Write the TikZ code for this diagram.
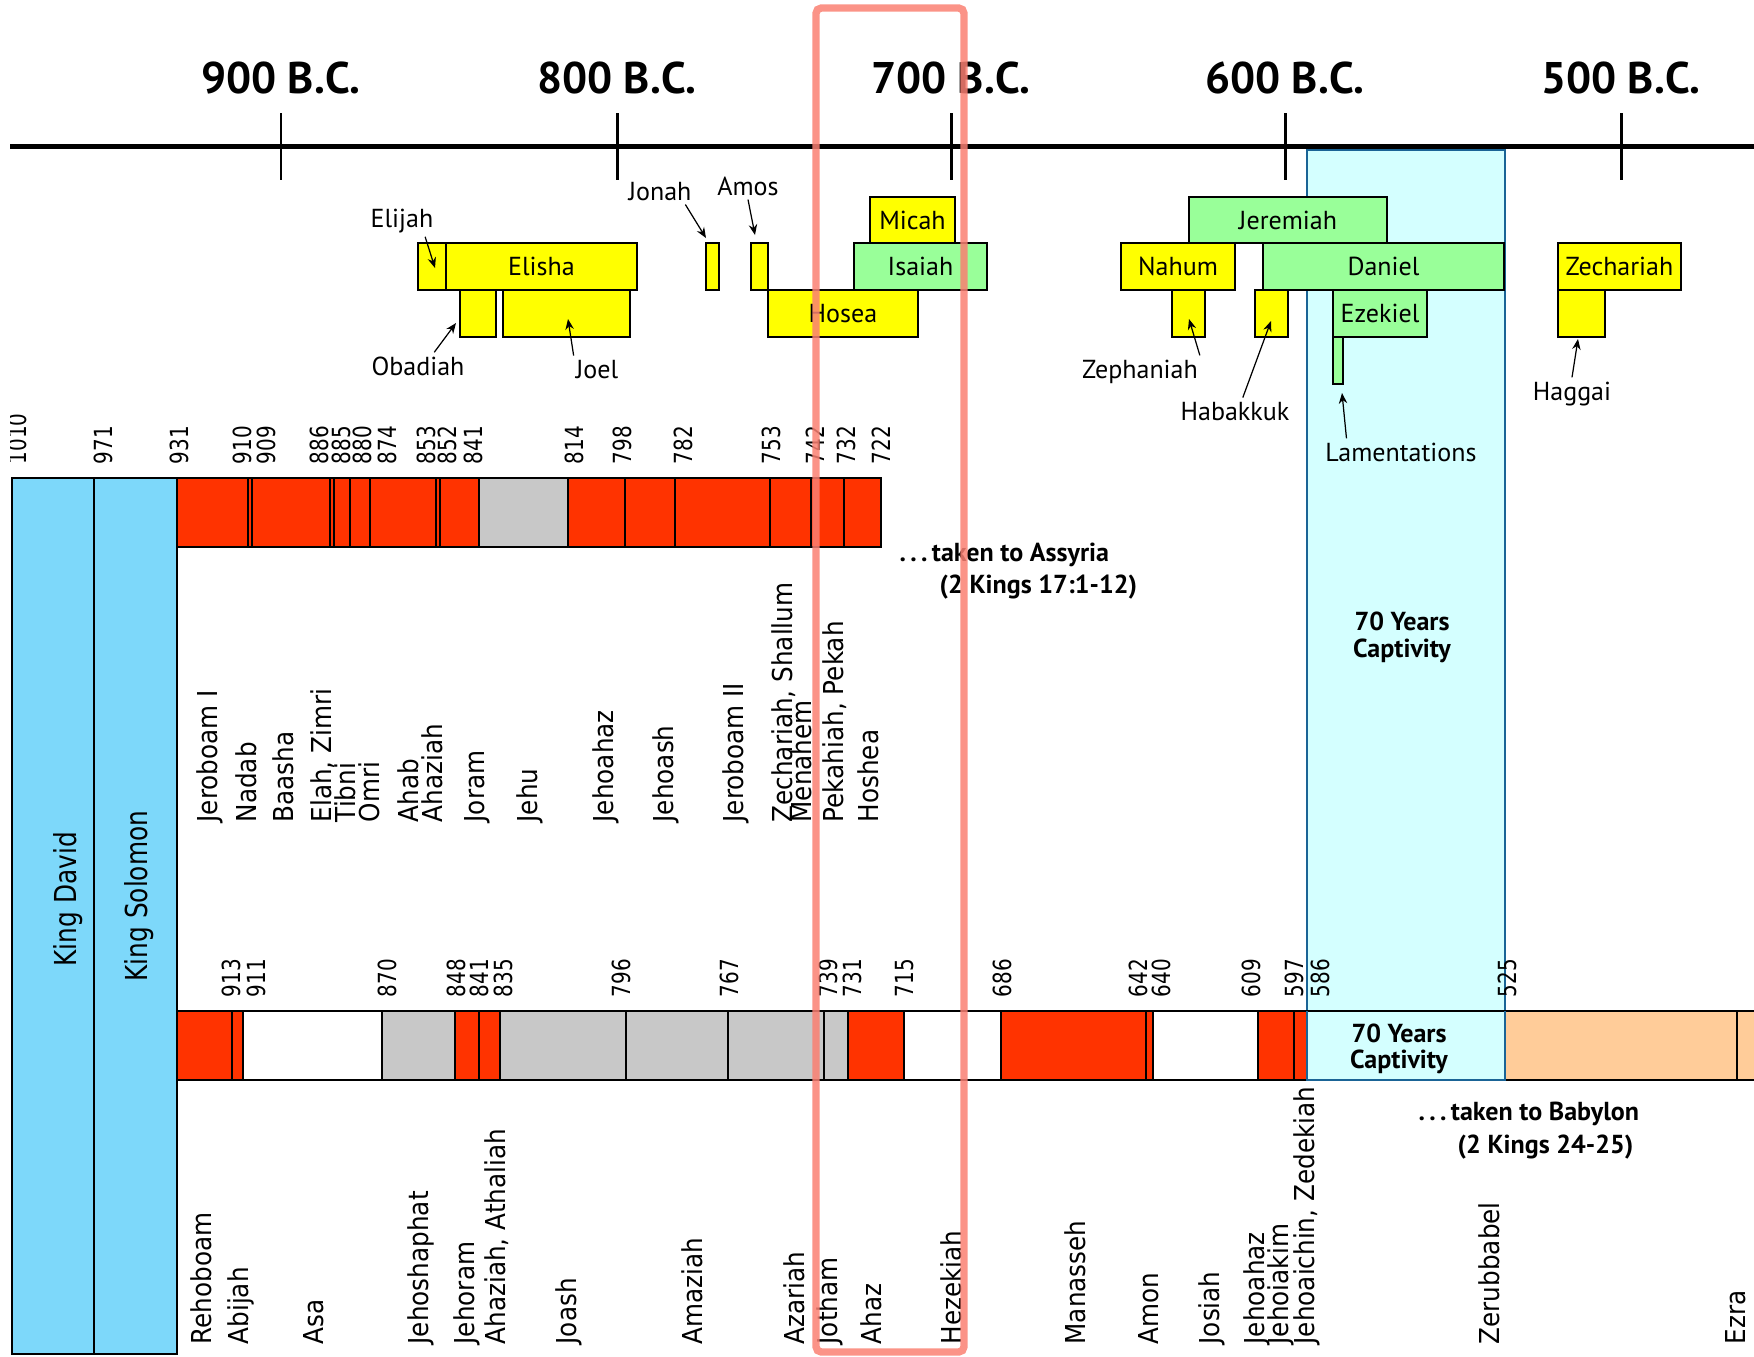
\documentclass[tikz,border=0pt]{standalone}
\usepackage{fontspec}
\setmainfont{PT Sans}
\newfontfamily\kingfont[FakeStretch=0.9]{DejaVu Sans}
\newfontfamily\crownfont[FakeStretch=0.82]{DejaVu Sans}
\newfontfamily\yearfont[FakeStretch=0.8]{DejaVu Sans}
\usetikzlibrary{arrows.meta}
\definecolor{israelred}{HTML}{FF3300}
\definecolor{idlegray}{HTML}{C8C8C8}
\definecolor{kingblue}{HTML}{7DD8FA}
\definecolor{exilecyan}{HTML}{D4FFFF}
\definecolor{exileedge}{HTML}{1A6496}
\definecolor{returnpeach}{HTML}{FFCC99}
\definecolor{prophetyellow}{HTML}{FFFF00}
\definecolor{prophetgreen}{HTML}{99FF99}
\definecolor{marker}{HTML}{FA8072}

\begin{document}
\begin{tikzpicture}[x=0.01cm,y=-0.01cm,
  cell/.style={draw=black,line width=0.6pt},
  ybox/.style={draw=black,line width=0.6pt,fill=prophetyellow},
  gbox/.style={draw=black,line width=0.6pt,fill=prophetgreen},
  plabel/.style={font=\fontsize{7.4}{8}\selectfont,anchor=base,inner sep=1pt},
  pointer/.style={-{Stealth[length=3pt,width=2.4pt]},line width=0.35pt},
  century/.style={font=\bfseries\fontsize{12.6}{14}\selectfont,anchor=base,inner sep=0pt},
  yearlbl/.style={font=\yearfont\fontsize{7.1}{8}\selectfont,rotate=90,anchor=base west,inner sep=0pt},
  kinglbl/.style={font=\kingfont\fontsize{7.8}{9}\selectfont,rotate=90,anchor=base west,inner sep=0pt},
  crownlbl/.style={font=\crownfont\fontsize{8.6}{9}\selectfont,rotate=90,anchor=base west,inner sep=0pt},
  note/.style={font=\bfseries\fontsize{7.4}{8}\selectfont,anchor=base west,inner sep=0pt}]
\useasboundingbox (0,0) rectangle (1754,1356);
\begin{scope}
\clip (10,0) rectangle (1754,1356);

% captivity column
\fill[exilecyan] (1307,150) rectangle (1505,1080);
\draw[exileedge,line width=0.7pt] (1307,150) rectangle (1505,1080);

% time axis
\draw[line width=1.6pt] (10,146.5) -- (1754,146.5);
\draw[line width=0.85pt] (281,113) -- (281,180);
\draw[line width=0.85pt] (617,113) -- (617,180);
\draw[line width=0.85pt] (951,113) -- (951,180);
\draw[line width=0.85pt] (1285,113) -- (1285,180);
\draw[line width=0.85pt] (1621,113) -- (1621,180);
\node[century] (c900) at (281,93) {900 B.C.};
\node[century] (c800) at (617,93) {800 B.C.};
\node[century] (c700) at (951,93) {700 B.C.};
\node[century] (c600) at (1285,93) {600 B.C.};
\node[century] (c500) at (1621,93) {500 B.C.};

% prophets
\draw[ybox] (418,243) rectangle (446,290);
\draw[ybox] (446,243) rectangle (637,290);
\node[plabel] (elisha) at (541.5,275.5) {Elisha};
\draw[ybox] (460,290) rectangle (496,337);
\draw[ybox] (503,290) rectangle (630,337);
\draw[ybox] (706,243) rectangle (719,290);
\draw[ybox] (751,243) rectangle (768,290);
\draw[ybox] (768,290) rectangle (918,337);
\node[plabel] (hosea) at (843,322) {Hosea};
\draw[ybox] (870,197) rectangle (955,243);
\node[plabel] (micah) at (912.5,229) {Micah};
\draw[gbox] (854,243) rectangle (987,290);
\node[plabel] (isaiah) at (920.5,275.5) {Isaiah};
\draw[gbox] (1189,197) rectangle (1387,243);
\node[plabel] (jeremiah) at (1288,229) {Jeremiah};
\draw[ybox] (1121,243) rectangle (1235,290);
\node[plabel] (nahum) at (1178,275.5) {Nahum};
\draw[gbox] (1263,243) rectangle (1504,290);
\node[plabel] (daniel) at (1383.5,275.5) {Daniel};
\draw[ybox] (1558,243) rectangle (1681,290);
\node[plabel] (zechariah) at (1619.5,275.5) {Zechariah};
\draw[ybox] (1172,290) rectangle (1205,337);
\draw[ybox] (1255,290) rectangle (1288,337);
\draw[gbox] (1333,290) rectangle (1427,337);
\node[plabel] (ezekiel) at (1380,322) {Ezekiel};
\draw[gbox] (1333,337) rectangle (1343,384);
\draw[ybox] (1558,290) rectangle (1605,337);

\node[plabel] (elijah) at (402,227) {Elijah};
\node[plabel] (obadiah) at (418,375) {Obadiah};
\node[plabel] (joel) at (597,378) {Joel};
\node[plabel] (jonah) at (660,200) {Jonah};
\node[plabel] (amos) at (748,195) {Amos};
\node[plabel] (zephaniah) at (1140,378) {Zephaniah};
\node[plabel] (habakkuk) at (1235,420) {Habakkuk};
\node[plabel] (lamentations) at (1401,461) {Lamentations};
\node[plabel] (haggai) at (1572,400) {Haggai};

\coordinate (elijahtip) at (435,268);
\coordinate (obadiahtip) at (456,323);
\coordinate (joeltip) at (568,319);
\coordinate (jonahtip) at (706,238);
\coordinate (amostip) at (755,235);
\coordinate (zephaniahtip) at (1189,319);
\coordinate (habakkuktip) at (1271,321);
\coordinate (lamentationstip) at (1342,393);
\coordinate (haggaitip) at (1578,339);
\draw[pointer] (elijah.-35) -- (elijahtip);
\draw[pointer] (obadiah.40) -- (obadiahtip);
\draw[pointer] (joel.150) -- (joeltip);
\draw[pointer] (jonah.-28) -- (jonahtip);
\draw[pointer] (amos.south) -- (amostip);
\draw[pointer] (zephaniah.15) -- (zephaniahtip);
\draw[pointer] (habakkuk.60) -- (habakkuktip);
\draw[pointer] (lamentations.166) -- (lamentationstip);
\draw[pointer] (haggai.north) -- (haggaitip);

% united kingdom
\draw[cell,fill=kingblue] (12,478) rectangle (94,1354);
\draw[cell,fill=kingblue] (94,478) rectangle (177,1354);
\node[crownlbl] (david) at (77,967) {King David};
\node[crownlbl] (solomon) at (147,982) {King Solomon};

% israel
\draw[cell,fill=israelred] (177,478) rectangle (248,547);
\draw[cell,fill=israelred] (248,478) rectangle (252,547);
\draw[cell,fill=israelred] (252,478) rectangle (330,547);
\draw[cell,fill=israelred] (330,478) rectangle (334,547);
\draw[cell,fill=israelred] (334,478) rectangle (350,547);
\draw[cell,fill=israelred] (350,478) rectangle (370,547);
\draw[cell,fill=israelred] (370,478) rectangle (436,547);
\draw[cell,fill=israelred] (436,478) rectangle (440,547);
\draw[cell,fill=israelred] (440,478) rectangle (479,547);
\draw[cell,fill=idlegray] (479,478) rectangle (568,547);
\draw[cell,fill=israelred] (568,478) rectangle (625,547);
\draw[cell,fill=israelred] (625,478) rectangle (675,547);
\draw[cell,fill=israelred] (675,478) rectangle (770,547);
\draw[cell,fill=israelred] (770,478) rectangle (811,547);
\draw[cell,fill=israelred] (811,478) rectangle (844,547);
\draw[cell,fill=israelred] (844,478) rectangle (881,547);

% judah
\draw[cell,fill=israelred] (177,1011) rectangle (232,1080);
\draw[cell,fill=israelred] (232,1011) rectangle (243,1080);
\draw[cell,fill=white] (243,1011) rectangle (382,1080);
\draw[cell,fill=idlegray] (382,1011) rectangle (455,1080);
\draw[cell,fill=israelred] (455,1011) rectangle (479,1080);
\draw[cell,fill=israelred] (479,1011) rectangle (500,1080);
\draw[cell,fill=idlegray] (500,1011) rectangle (626,1080);
\draw[cell,fill=idlegray] (626,1011) rectangle (728,1080);
\draw[cell,fill=idlegray] (728,1011) rectangle (824,1080);
\draw[cell,fill=idlegray] (824,1011) rectangle (848,1080);
\draw[cell,fill=israelred] (848,1011) rectangle (904,1080);
\draw[cell,fill=white] (904,1011) rectangle (1001,1080);
\draw[cell,fill=israelred] (1001,1011) rectangle (1146,1080);
\draw[cell,fill=israelred] (1146,1011) rectangle (1153,1080);
\draw[cell,fill=white] (1153,1011) rectangle (1258,1080);
\draw[cell,fill=israelred] (1258,1011) rectangle (1294,1080);
\draw[cell,fill=israelred] (1294,1011) rectangle (1307,1080);
\draw[cell] (1307,1011) -- (1505,1011);
\draw[cell,fill=returnpeach] (1505,1011) rectangle (1737,1080);
\draw[cell,fill=returnpeach] (1737,1011) rectangle (1770,1080);
\draw[exileedge,line width=0.7pt] (1307,1011) -- (1307,1080) -- (1505,1080) -- (1505,1011);
\node[font=\bfseries\fontsize{7.4}{7.2}\selectfont,align=center] (exilecell) at (1399,1049) {70 Years\\Captivity};
\node[font=\bfseries\fontsize{7.4}{7.7}\selectfont,align=center] (exilecol) at (1402,637) {70 Years\\Captivity};

% israel years
\node[yearlbl] (i1010) at (26,465) {1010};
\node[yearlbl] (i971) at (112,465) {971};
\node[yearlbl] (i931) at (188,465) {931};
\node[yearlbl] (i910) at (251,465) {910};
\node[yearlbl] (i909) at (275,465) {909};
\node[yearlbl] (i886) at (328,465) {886};
\node[yearlbl] (i885) at (350,465) {885};
\node[yearlbl] (i880) at (371,465) {880};
\node[yearlbl] (i874) at (396,465) {874};
\node[yearlbl] (i853) at (435,465) {853};
\node[yearlbl] (i852) at (456,465) {852};
\node[yearlbl] (i841) at (482,465) {841};
\node[yearlbl] (i814) at (583,465) {814};
\node[yearlbl] (i798) at (631,465) {798};
\node[yearlbl] (i782) at (692,465) {782};
\node[yearlbl] (i753) at (780,465) {753};
\node[yearlbl] (i742) at (824,465) {742};
\node[yearlbl] (i732) at (855,465) {732};
\node[yearlbl] (i722) at (890,465) {722};

% israel kings
\node[kinglbl] (iJeroboamI) at (217,823) {Jeroboam I};
\node[kinglbl] (iNadab) at (256,823) {Nadab};
\node[kinglbl] (iBaasha) at (293,823) {Baasha};
\node[kinglbl] (iElah) at (331,823) {Elah, Zimri};
\node[kinglbl] (iTibni) at (355,823) {Tibni};
\node[kinglbl] (iOmri) at (379,823) {Omri};
\node[kinglbl] (iAhab) at (418,823) {Ahab};
\node[kinglbl] (iAhaziah) at (442,823) {Ahaziah};
\node[kinglbl] (iJoram) at (484,823) {Joram};
\node[kinglbl] (iJehu) at (537,823) {Jehu};
\node[kinglbl] (iJehoahaz) at (613,823) {Jehoahaz};
\node[kinglbl] (iJehoash) at (673,823) {Jehoash};
\node[kinglbl] (iJeroboamII) at (743,823) {Jeroboam II};
\node[kinglbl] (iZechariah) at (792,823) {Zechariah, Shallum};
\node[kinglbl] (iMenahem) at (811,823) {Menahem};
\node[kinglbl] (iPekahiah) at (843,823) {Pekahiah, Pekah};
\node[kinglbl] (iHoshea) at (878,823) {Hoshea};

% judah years
\node[yearlbl] (j913) at (240,998) {913};
\node[yearlbl] (j911) at (265,998) {911};
\node[yearlbl] (j870) at (396,998) {870};
\node[yearlbl] (j848) at (465,998) {848};
\node[yearlbl] (j841) at (488,998) {841};
\node[yearlbl] (j835) at (512,998) {835};
\node[yearlbl] (j796) at (630,998) {796};
\node[yearlbl] (j767) at (738,998) {767};
\node[yearlbl] (j739) at (837,998) {739};
\node[yearlbl] (j731) at (861,998) {731};
\node[yearlbl] (j715) at (913,998) {715};
\node[yearlbl] (j686) at (1011,998) {686};
\node[yearlbl] (j642) at (1147,998) {642};
\node[yearlbl] (j640) at (1170,998) {640};
\node[yearlbl] (j609) at (1260,998) {609};
\node[yearlbl] (j597) at (1303,998) {597};
\node[yearlbl] (j586) at (1329,998) {586};
\node[yearlbl] (j525) at (1516,998) {525};

% judah kings
\node[kinglbl] (jRehoboam) at (211,1345) {Rehoboam};
\node[kinglbl] (jAbijah) at (248,1345) {Abijah};
\node[kinglbl] (jAsa) at (323,1345) {Asa};
\node[kinglbl] (jJehoshaphat) at (428,1345) {Jehoshaphat};
\node[kinglbl] (jJehoram) at (474,1345) {Jehoram};
\node[kinglbl] (jAhaziah) at (505,1345) {Ahaziah, Athaliah};
\node[kinglbl] (jJoash) at (576,1345) {Joash};
\node[kinglbl] (jAmaziah) at (702,1345) {Amaziah};
\node[kinglbl] (jAzariah) at (804,1345) {Azariah};
\node[kinglbl] (jJotham) at (837,1345) {Jotham};
\node[kinglbl] (jAhaz) at (881,1345) {Ahaz};
\node[kinglbl] (jHezekiah) at (961,1345) {Hezekiah};
\node[kinglbl] (jManasseh) at (1085,1345) {Manasseh};
\node[kinglbl] (jAmon) at (1158,1345) {Amon};
\node[kinglbl] (jJosiah) at (1219,1345) {Josiah};
\node[kinglbl] (jJehoahaz) at (1264,1345) {Jehoahaz};
\node[kinglbl] (jJehoiakim) at (1288,1345) {Jehoiakim};
\node[kinglbl] (jJehoaichin) at (1314,1345) {Jehoaichin, Zedekiah};
\node[kinglbl] (jZerubbabel) at (1499,1345) {Zerubbabel};
\node[kinglbl] (jEzra) at (1745,1345) {Ezra};

% exile notes
\node[note] (assyria) at (899,561) {.\,.\,.\,taken to Assyria};
\node[note] (assyriaref) at (939,593) {(2 Kings 17:1-12)};
\node[note] (babylon) at (1418,1120) {.\,.\,.\,taken to Babylon};
\node[note] (babylonref) at (1457,1153) {(2 Kings 24-25)};

% highlight
\draw[marker,opacity=0.85,line width=2.1pt,rounded corners=1.5pt] (816,8) rectangle (964,1352);
\end{scope}
\end{tikzpicture}
\end{document}
